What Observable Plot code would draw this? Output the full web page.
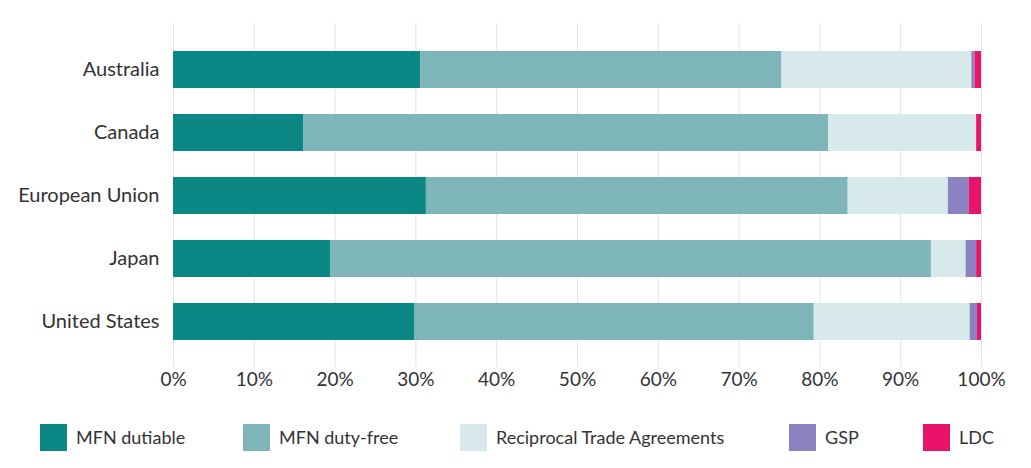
<!DOCTYPE html>
<html>
<head>
<meta charset="utf-8">
<script src="https://cdn.jsdelivr.net/npm/d3@7"></script>
<script src="https://cdn.jsdelivr.net/npm/@observablehq/plot@0.6"></script>
<style>
  html, body { margin: 0; padding: 0; background: #fff; }
  body { width: 1031px; height: 468px; overflow: hidden; font-family: Lato, "Open Sans", sans-serif; }
  #chart { position: absolute; left: 0; top: 0; }
  #legend { position: absolute; left: 0; top: 420px; width: 1031px; height: 34px; }
  .item { position: absolute; top: 0; height: 34px; display: flex; align-items: center; }
  .sw { width: 27px; height: 27px; margin-right: 9px; }
  .lab { font-size: 18px; color: #333; white-space: nowrap; }
</style>
</head>
<body>
<div id="chart"></div>
<div id="legend"></div>
<script>
const countries = ["Australia", "Canada", "European Union", "Japan", "United States"];
const categories = ["MFN dutiable", "MFN duty-free", "Reciprocal Trade Agreements", "GSP", "LDC"];
const mfnDutiable = [30.6, 16.1, 31.3, 19.5, 29.9];
const mfnDutyFree = [44.7, 65.0, 52.2, 74.3, 49.4];
const reciprocal  = [23.5, 18.3, 12.4, 4.3, 19.3];
const gsp         = [0.4, 0.0, 2.6, 1.3, 0.9];
const ldc         = [0.8, 0.6, 1.5, 0.6, 0.5];
const xTicks = [0, 10, 20, 30, 40, 50, 60, 70, 80, 90, 100];
const colors = ["#0b8886", "#7db5b9", "#d8e9eb", "#8b82c1", "#e8146b"];

const series = [mfnDutiable, mfnDutyFree, reciprocal, gsp, ldc];
const rows = [];
countries.forEach((c, i) => {
  categories.forEach((cat, j) => {
    rows.push({country: c, category: cat, value: series[j][i]});
  });
});

const chart = Plot.plot({
  width: 1031,
  height: 400,
  marginLeft: 173,
  marginRight: 50,
  marginTop: 23,
  marginBottom: 33,
  style: {fontFamily: "Lato, 'Open Sans', sans-serif", background: "#fff"},
  x: {domain: [0, 100], ticks: xTicks, tickFormat: d => d + "%", label: null, tickSize: 0, tickPadding: 5},
  y: {domain: countries, padding: 0.42, label: null, tickSize: 0, tickPadding: 14},
  color: {domain: categories, range: colors},
  marks: [
    Plot.gridX(xTicks, {stroke: "#e4e4e4", strokeOpacity: 1}),
    Plot.barX(rows, Plot.stackX({x: "value", y: "country", fill: "category", order: categories})),
    Plot.axisX({ticks: xTicks, tickFormat: d => d + "%", tickSize: 0, tickPadding: 5, fontSize: 19, fill: "#333", label: null}),
    Plot.axisY({tickSize: 0, tickPadding: 14, fontSize: 20, fill: "#333", label: null})
  ]
});
document.getElementById("chart").appendChild(chart);

const legendLeft = [40, 243, 460, 789, 923];
const legend = document.getElementById("legend");
categories.forEach((cat, j) => {
  const item = document.createElement("div");
  item.className = "item";
  item.style.left = legendLeft[j] + "px";
  const sw = document.createElement("div");
  sw.className = "sw";
  sw.style.background = colors[j];
  const lab = document.createElement("span");
  lab.className = "lab";
  lab.textContent = cat;
  item.appendChild(sw);
  item.appendChild(lab);
  legend.appendChild(item);
});
</script>
</body>
</html>
